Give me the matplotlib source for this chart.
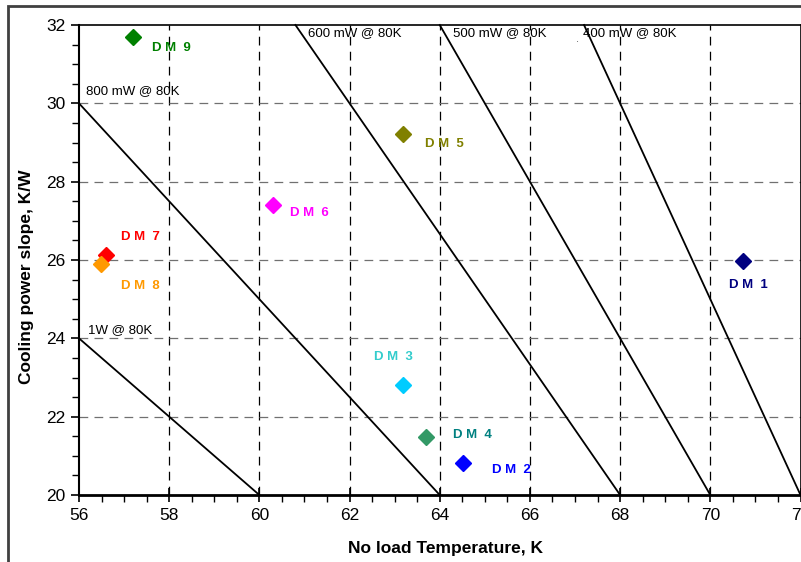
import matplotlib
matplotlib.use("Agg")
import matplotlib.pyplot as plt
from matplotlib.patches import Rectangle
from matplotlib.ticker import MultipleLocator
import numpy as np

plt.rcParams['font.family'] = ['Liberation Sans', 'DejaVu Sans']

# Data
names = ["DM 1", "DM 2", "DM 3", "DM 4", "DM 5", "DM 6", "DM 7", "DM 8", "DM 9"]
temps = [70.73, 64.52, 63.19, 63.69, 63.18, 60.30, 56.59, 56.48, 57.19]
slopes = [25.97, 20.81, 22.81, 21.49, 29.22, 27.40, 26.13, 25.90, 31.69]
marker_colors = ["#000080", "#0000FF", "#00CCFF", "#339966", "#808000",
                 "#FF00FF", "#FF0000", "#FF9900", "#008000"]
label_colors = ["#000080", "#0000FF", "#33CCCC", "#008080", "#808000",
                "#FF00FF", "#FF0000", "#FF9900", "#008000"]
label_x = [70.41, 65.16, 62.54, 64.29, 63.67, 60.68, 56.93, 56.93, 57.62]
label_y = [25.36, 20.64, 23.52, 21.53, 28.96, 27.20, 26.59, 25.34, 31.41]

# Iso-power lines: slope = (80 - T) / P
powers_w = [1.0, 0.8, 0.6, 0.5, 0.4]
power_labels = ["1W @ 80K", "800 mW @ 80K", "600 mW @ 80K", "500 mW @ 80K", "400 mW @ 80K"]
plabel_x = [56.21, 56.16, 61.07, 64.29, 67.17]
plabel_y = [24.21, 30.32, 31.79, 31.79, 31.79]
T_ref = 80.0

xmin, xmax, ymin, ymax = 56, 72, 20, 32

fig = plt.figure(figsize=(8.01, 5.62), dpi=100)
ax = fig.add_axes([79/801, 1 - 495/562, 721.5/801, 470/562])
ax.set_xlim(xmin, xmax)
ax.set_ylim(ymin, ymax)

# grid
for xv in np.arange(58, 72, 2):
    ax.axvline(xv, color="black", lw=0.9, dashes=(7, 5), zorder=1)
for yv in np.arange(22, 32, 2):
    ax.axhline(yv, color="#707070", lw=0.9, dashes=(7, 5), zorder=1)

# iso-power lines
for P in powers_w:
    t_lo = max(xmin, T_ref - ymax * P)
    t_hi = min(xmax, T_ref - ymin * P)
    tt = np.array([t_lo, t_hi])
    ax.plot(tt, (T_ref - tt) / P, color="black", lw=1.3, zorder=2, clip_on=False)

for txt, px, py in zip(power_labels, plabel_x, plabel_y):
    ax.text(px, py, txt, fontsize=9.5, ha="left", va="center", color="black", zorder=3)
ax.text(67.02, 31.64, ".", fontsize=8, ha="left", va="center", color="#555555")

# points
for t, s, c in zip(temps, slopes, marker_colors):
    ax.plot(t, s, marker="D", ms=8.5, color=c, mec=c, ls="none", zorder=4)
for n, lx, ly, c in zip(names, label_x, label_y, label_colors):
    spaced = n.replace("DM ", "D M  ")
    ax.text(lx, ly, spaced, fontsize=9.5, fontweight="bold", color=c,
            ha="left", va="center", zorder=4)

# ticks
ax.xaxis.set_major_locator(MultipleLocator(2))
ax.xaxis.set_minor_locator(MultipleLocator(0.5))
ax.yaxis.set_major_locator(MultipleLocator(2))
ax.yaxis.set_minor_locator(MultipleLocator(0.5))
ax.tick_params(axis="both", which="major", direction="out", length=6, width=1.2,
               labelsize=12.5, pad=4)
ax.tick_params(axis="x", which="major", direction="inout", length=10)
ax.tick_params(axis="both", which="minor", direction="out", length=5, width=1.0)
ax.set_xticks(np.arange(56, 74, 2))
ax.set_xticklabels([str(v) for v in range(56, 74, 2)])

ax.spines["bottom"].set_linewidth(2.0)
ax.spines["left"].set_linewidth(1.5)
ax.spines["top"].set_linewidth(1.2)
ax.spines["right"].set_linewidth(1.2)

fig.text(445/801, 1 - 548/562, "No load Temperature, K", fontsize=12.5, fontweight="bold",
         ha="center", va="center")
fig.text(26/801, 1 - 277/562, "Cooling power slope, K/W", fontsize=12.5, fontweight="bold",
         ha="center", va="center", rotation=90)

# outer frame
fig.patches.append(Rectangle((8/801, -0.2), 1.5, 1.2 - 5.7/562, transform=fig.transFigure,
                             fill=False, edgecolor="#404040", lw=2.0))

fig.savefig("out.png", dpi=100)
